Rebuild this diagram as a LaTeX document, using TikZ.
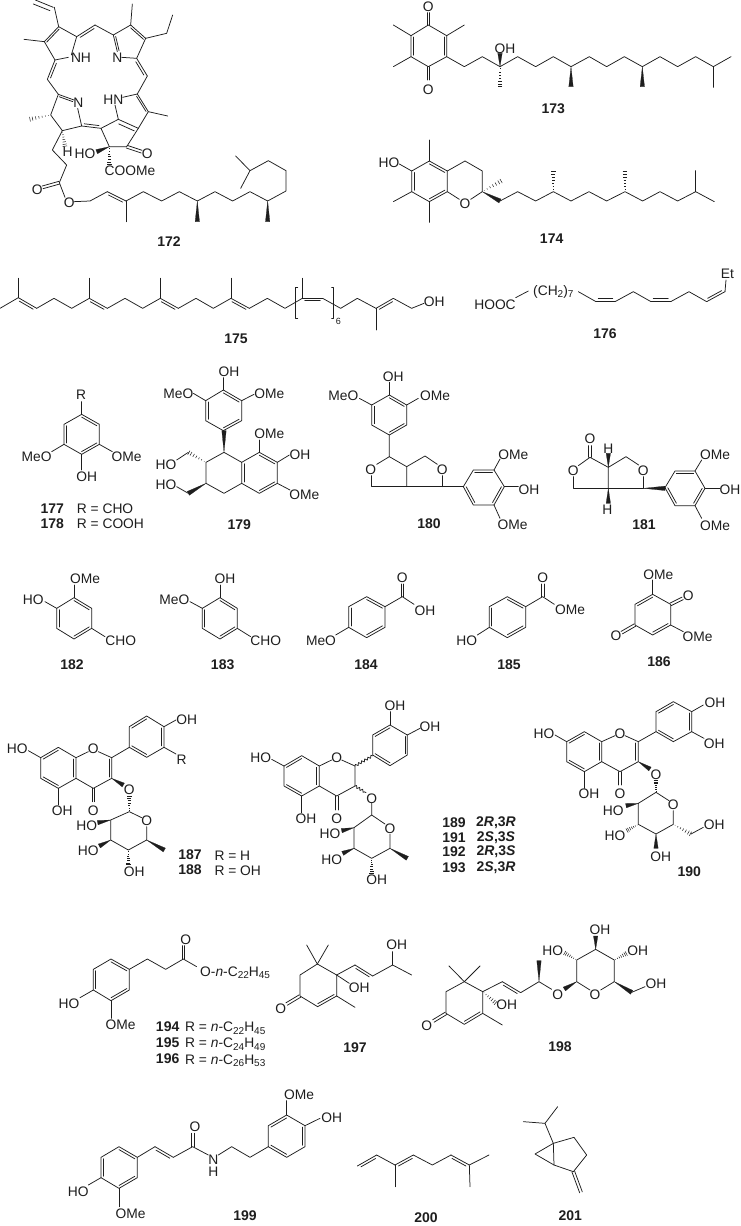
\documentclass[tikz,border=0pt]{standalone}
\usepackage{fontspec}
\setmainfont{Liberation Sans}
\usetikzlibrary{calc,decorations.pathmorphing}
\definecolor{ink}{HTML}{1E1E1E}
\tikzset{
  zz/.style 2 args={x=0.33333pt,y=-0.33333pt,xshift=#1pt,yshift=-#2pt},
  b/.style={draw=ink,line width=0.75pt,line cap=round,line join=round},
  hb/.style={draw=ink,line width=0.5pt},
  wf/.style={fill=ink,draw=ink,line width=0.2pt},
  atom/.style={inner sep=0pt,text=ink,font=\fontsize{13.8}{15}\selectfont},
  numl/.style={inner sep=0pt,text=ink,font=\fontsize{14}{15}\selectfont\bfseries},
  wavy/.style={b,decorate,decoration={snake,amplitude=1.2pt,segment length=3.6pt}}
}
\newcount\lblc
\newcommand\lbl[3][]{\global\advance\lblc by 1 \node[atom,#1] (t\the\lblc) at (#2) {#3};}
\newcommand\nml[2]{\global\advance\lblc by 1 \node[numl] (t\the\lblc) at (#1) {#2};}
\newcommand\inn[4][.14]{\draw[b] ($(#3)!#1!(#2)$) -- ($(#4)!#1!(#2)$);}
\newcommand\dbl[3]{\draw[b] (#1)--(#2); \draw[b] ($(#1)!.12!(#2)!#3!90:(#2)$) -- ($(#2)!.12!(#1)!#3!-90:(#1)$);}
\newcommand\dbo[2]{\draw[b] ($(#1)!1.4pt!90:(#2)$) -- ($(#2)!1.4pt!-90:(#1)$); \draw[b] ($(#1)!1.4pt!-90:(#2)$) -- ($(#2)!1.4pt!90:(#1)$);}
\newcommand\wdg[2]{\fill[wf] (#1) -- ($(#2)!2.2pt!90:(#1)$) -- ($(#2)!2.2pt!-90:(#1)$) -- cycle;}
\newcommand\hsh[2]{\foreach \hT in {.1,.25,.4,.55,.7,.85,.97}{\pgfmathsetlengthmacro\hW{\hT*2.4}\draw[hb] ($(#1)!\hT!(#2)!\hW!90:(#2)$) -- ($(#1)!\hT!(#2)!\hW!-90:(#2)$);}}
\newcommand\sbs[1]{\raisebox{-2.5pt}{\fontsize{10}{10}\selectfont #1}}
\begin{document}
\begin{tikzpicture}[x=1pt,y=-1pt]
\useasboundingbox (0,0) rectangle (741,1226);
\fill[white] (0,0) rectangle (741,1226);
%% 172
\begin{scope}[zz={0}{0}]
\draw[b] (176,80)--(163,22);
\draw[b] (160,22)--(106,0);
\draw[b] (150,32)--(100,12);
\draw[b] (133,125)--(72,118);
\draw[b] (214,165)--(230,110)--(176,80)--(133,125)--(165,180)--(205,172);
\inn{183,135}{176,80}{133,125}
\dbl{230,110}{285,75}{-2.5pt}
\draw[b] (285,75)--(340,105)--(352,155);
\draw[b] (340,105)--(392,75)--(437,115)--(410,175)--(365,172);
\inn{390,135}{340,105}{352,155}
\inn{390,135}{392,75}{437,115}
\draw[b] (392,75)--(397,12);
\draw[b] (437,115)--(500,100)--(518,45);
\dbl{165,180}{142,238}{2.5pt}
\dbl{410,175}{442,228}{-2.5pt}
\draw[b] (142,238)--(175,283);
\draw[b] (442,228)--(412,282);
\draw[b] (222,300)--(175,283)--(152,345)--(187,392)--(245,378)--(233,325);
\inn{195,335}{175,283}{222,300}
\draw[b] (368,292)--(412,282)--(445,335)--(415,385)--(380,440)--(328,440)--(303,385)--(355,358)--(345,315);
\inn{395,330}{412,282}{445,335}
\draw[b] (355,358)--(415,385);
\inn[.22]{360,420}{355,358}{415,385}
\draw[b] (445,335)--(503,348);
\dbl{303,385}{245,378}{-2.5pt}
\hsh{152,345}{88,358}
\hsh{187,392}{195,440}
\draw[b] (187,392)--(157,450)--(200,495)--(178,548);
\dbo{178,548}{128,562}
\draw[b] (178,548)--(195,592);
\draw[b] (222,605)--(270,603)--(322,575);
\dbl{322,575}{378,603}{-2.5pt}
\draw[b] (378,603)--(378,665);
\draw[b] (378,603)--(430,575)--(485,603)--(538,575)--(592,603)--(645,575)--(698,603)--(750,575)--(803,603)--(858,573)--(858,512)--(805,482)--(750,512)--(707,468);
\draw[b] (750,512)--(722,565);
\wdg{592,603}{592,665}
\wdg{803,603}{803,665}
\wdg{328,440}{290,455}
\hsh{328,440}{328,495}
\dbo{380,440}{425,455}
\lbl{243,172}{NH}
\lbl{352,172}{N}
\lbl{340,298}{HN}
\lbl{235,308}{N}
\lbl{203,455}{H}
\lbl{255,462}{HO}
\lbl{442,462}{O}
\lbl{390,512}{COOMe}
\lbl{112,568}{O}
\lbl{208,607}{O}
\nml{507,725}{172}
\end{scope}
%% 173 174
\begin{scope}[zz={360}{0}]
\draw[b] (205,75)--(260,107)--(260,170)--(205,200)--(153,170)--(153,107)--cycle;
\inn{207,137}{153,107}{153,170}
\inn{207,137}{260,107}{260,170}
\dbo{205,75}{205,38}
\dbo{205,200}{205,240}
\lbl{205,20}{O}
\lbl{205,270}{O}
\draw[b] (153,107)--(100,75);
\draw[b] (153,170)--(100,200);
\draw[b] (260,107)--(313,75);
\draw[b] (260,170)--(313,200)--(367,170)--(420,200)--(473,170)--(527,200)--(580,170)--(633,200)--(688,170)--(740,200)--(793,170)--(847,200)--(900,170)--(953,200)--(1007,170)--(1060,200)--(1113,170);
\draw[b] (1060,200)--(1060,262);
\wdg{420,200}{420,160}
\hsh{420,200}{420,262}
\wdg{633,200}{633,260}
\wdg{847,200}{847,260}
\lbl{435,145}{OH}
\nml{580,327}{173}
\draw[b] (208,483)--(262,513)--(262,575)--(208,605)--(155,575)--(155,513)--cycle;
\inn{208,544}{208,483}{262,513}
\inn{208,544}{262,575}{208,605}
\inn{208,544}{155,513}{155,575}
\draw[b] (155,513)--(118,492);
\draw[b] (208,483)--(208,420);
\draw[b] (155,575)--(100,605);
\draw[b] (208,605)--(208,667);
\draw[b] (262,575)--(298,598);
\draw[b] (262,513)--(315,483)--(367,513)--(367,575)--(332,598);
\hsh{367,575}{425,542}
\wdg{367,575}{420,603}
\draw[b] (420,603)--(473,575)--(527,603)--(580,575)--(633,603)--(687,575)--(740,603)--(795,575)--(848,603)--(900,575)--(953,603)--(1007,575)--(1063,605);
\draw[b] (1007,575)--(1007,512);
\hsh{580,575}{580,512}
\hsh{795,575}{795,512}
\lbl{87,487}{HO}
\lbl{315,610}{O}
\nml{575,715}{174}
\end{scope}
%% 175 177 178 179
\begin{scope}[zz={0}{255}]
\draw[b] (0,160)--(55,128);
\dbl{55,128}{110,160}{-2.5pt}
\draw[b] (110,160)--(162,130)--(215,160)--(268,130);
\dbl{268,130}{322,160}{-2.5pt}
\draw[b] (322,160)--(375,130)--(428,160)--(481,130);
\dbl{481,130}{535,160}{-2.5pt}
\draw[b] (535,160)--(588,130)--(640,160)--(693,130);
\dbl{693,130}{748,160}{-2.5pt}
\draw[b] (748,160)--(802,130)--(855,160)--(907,130);
\dbl{907,130}{968,130}{-2.5pt}
\draw[b] (968,130)--(1022,160)--(1072,130)--(1128,160);
\dbl{1128,160}{1180,130}{-2.5pt}
\draw[b] (1180,130)--(1235,160)--(1272,145);
\draw[b] (1128,160)--(1128,225);
\foreach \mx in {55,268,481,693,907}{\draw[b] (\mx,128)--(\mx,70);}
\draw[b] (893,97)--(886,97)--(886,190)--(893,190);
\draw[b] (995,97)--(1001,97)--(1001,190)--(995,190);
\node[inner sep=0pt,text=ink,font=\fontsize{9}{9}\selectfont] (six) at (1015,200) {6};
\lbl{1303,140}{OH}
\nml{708,250}{175}
% 177
\draw[b] (245,478)--(298,508)--(298,568)--(245,598)--(192,568)--(192,508)--cycle;
\inn{245,538}{192,508}{192,568}
\inn{245,538}{245,478}{298,508}
\inn{245,538}{298,568}{245,598}
\draw[b] (245,478)--(245,440);
\draw[b] (192,568)--(155,590);
\draw[b] (298,568)--(337,590);
\draw[b] (245,598)--(245,645);
\lbl{243,420}{R}
\lbl{110,605}{MeO}
\lbl{380,605}{OMe}
\lbl{260,665}{OH}
\nml{157,762}{177}
\nml{157,805}{178}
\lbl[anchor=west]{230,762}{R = CHO}
\lbl[anchor=west]{230,807}{R = COOH}
% 179
\draw[b] (670,405)--(725,437)--(725,497)--(670,527)--(617,497)--(617,437)--cycle;
\inn{671,467}{617,437}{617,497}
\inn{671,467}{670,405}{725,437}
\inn{671,467}{670,527}{725,497}
\draw[b] (670,405)--(670,368);
\draw[b] (617,437)--(580,415);
\draw[b] (725,437)--(762,418);
\wdg{672,592}{672,527}
\draw[b] (672,592)--(725,622)--(725,685)--(672,715)--(618,685)--(618,622)--cycle;
\draw[b] (725,622)--(778,592)--(832,622)--(832,685)--(778,715)--(725,685);
\inn{778,654}{725,622}{725,685}
\inn{778,654}{778,592}{832,622}
\inn{778,654}{832,685}{778,715}
\draw[b] (778,592)--(778,555);
\draw[b] (832,622)--(868,600);
\draw[b] (832,685)--(870,705);
\hsh{618,622}{565,592}
\draw[b] (565,592)--(530,615);
\wdg{618,685}{565,715}
\draw[b] (565,715)--(530,695);
\lbl{687,350}{OH}
\lbl{535,415}{MeO}
\lbl{808,415}{OMe}
\lbl{808,535}{OMe}
\lbl{900,598}{OH}
\lbl{913,720}{OMe}
\lbl{498,628}{HO}
\lbl{498,690}{HO}
\nml{718,808}{179}
\end{scope}
%% 176 180 181
\begin{scope}[zz={350}{255}]
\lbl{435,148}{HOOC}
\draw[b] (497,128)--(535,108);
\lbl{610,110}{(CH\sbs{2})\sbs{7}}
\draw[b] (685,110)--(738,140);
\dbl{738,140}{795,140}{2.8pt}
\draw[b] (795,140)--(850,110)--(903,140);
\dbl{903,140}{962,140}{2.8pt}
\draw[b] (962,140)--(1017,110)--(1070,140);
\dbl{1070,140}{1125,110}{2.5pt}
\draw[b] (1125,110)--(1128,75);
\lbl{1132,55}{Et}
\nml{765,237}{176}
% 180
\draw[b] (118,420)--(170,450)--(170,510)--(118,540)--(65,510)--(65,450)--cycle;
\inn{118,480}{65,450}{65,510}
\inn{118,480}{118,420}{170,450}
\inn{118,480}{170,510}{118,540}
\draw[b] (118,420)--(118,382);
\draw[b] (65,450)--(28,430);
\draw[b] (170,450)--(205,430);
\draw[b] (118,540)--(118,605)--(170,635)--(170,695);
\draw[b] (118,605)--(80,628);
\draw[b] (65,662)--(65,695)--(277,695)--(340,695);
\draw[b] (170,635)--(225,603)--(262,628);
\draw[b] (277,662)--(277,695);
\draw[b] (340,695)--(370,645)--(432,645)--(463,695)--(432,750)--(370,750)--cycle;
\inn{401,697}{370,645}{432,645}
\inn{401,697}{463,695}{432,750}
\inn{401,697}{340,695}{370,750}
\draw[b] (432,645)--(450,612);
\draw[b] (463,695)--(505,695);
\draw[b] (432,750)--(450,790);
\lbl{130,365}{OH}
\lbl{-20,423}{MeO}
\lbl{255,423}{OMe}
\lbl{62,645}{O}
\lbl{277,645}{O}
\lbl{490,598}{OMe}
\lbl{537,703}{OH}
\lbl{488,808}{OMe}
\nml{237,807}{180}
% 181
\dbo{720,607}{720,572}
\draw[b] (685,632)--(720,607)--(775,637)--(775,700);
\draw[b] (670,665)--(670,700)--(880,700)--(880,665);
\draw[b] (775,637)--(828,605)--(866,630);
\wdg{775,637}{775,595}
\wdg{775,700}{775,745}
\wdg{880,700}{945,700}
\draw[b] (945,698)--(975,648)--(1035,648)--(1065,700)--(1035,752)--(975,752)--cycle;
\inn{1005,700}{975,648}{1035,648}
\inn{1005,700}{1065,700}{1035,752}
\inn{1005,700}{945,698}{975,752}
\draw[b] (1035,648)--(1055,615);
\draw[b] (1065,700)--(1110,700);
\draw[b] (1035,752)--(1055,790);
\lbl{720,552}{O}
\lbl{670,647}{O}
\lbl{880,647}{O}
\lbl{775,580}{H}
\lbl{772,765}{H}
\lbl{1095,600}{OMe}
\lbl{1140,705}{OH}
\lbl{1095,812}{OMe}
\nml{882,810}{181}
\end{scope}
%% 182 183
\begin{scope}[zz={0}{535}]
\draw[b] (222,188)--(275,220)--(275,280)--(222,312)--(170,280)--(170,220)--cycle;
\inn{222,250}{222,188}{275,220}
\inn{222,250}{170,220}{170,280}
\inn{222,250}{222,312}{275,280}
\draw[b] (222,188)--(222,150);
\draw[b] (170,220)--(135,200);
\draw[b] (275,280)--(315,305);
\lbl{255,132}{OMe}
\lbl{100,195}{HO}
\lbl{362,318}{CHO}
\nml{216,390}{182}
\draw[b] (660,188)--(712,220)--(712,280)--(660,312)--(607,280)--(607,220)--cycle;
\inn{660,250}{660,188}{712,220}
\inn{660,250}{607,220}{607,280}
\inn{660,250}{660,312}{712,280}
\draw[b] (660,188)--(660,150);
\draw[b] (607,220)--(570,200);
\draw[b] (712,280)--(752,305);
\lbl{675,132}{OH}
\lbl{523,193}{MeO}
\lbl{797,318}{CHO}
\nml{668,390}{183}
\end{scope}
%% 184 185 186
\begin{scope}[zz={370}{535}]
\draw[b] (-64,215)--(-10,185)--(45,215)--(45,277)--(-10,308)--(-64,277)--cycle;
\inn{-10,246}{-64,215}{-64,277}
\inn{-10,246}{-10,185}{45,215}
\inn{-10,246}{45,277}{-10,308}
\draw[b] (-64,277)--(-103,300);
\draw[b] (45,215)--(97,185)--(132,208);
\dbo{97,185}{97,147}
\lbl{97,128}{O}
\lbl{165,227}{OH}
\lbl{-147,318}{MeO}
\nml{-12,390}{184}
\draw[b] (358,215)--(412,185)--(467,215)--(467,277)--(412,308)--(358,277)--cycle;
\inn{412,246}{358,215}{358,277}
\inn{412,246}{412,185}{467,215}
\inn{412,246}{467,277}{412,308}
\draw[b] (358,277)--(322,300);
\draw[b] (467,215)--(518,185)--(553,208);
\dbo{518,185}{518,147}
\lbl{518,128}{O}
\lbl{600,223}{OMe}
\lbl{290,317}{HO}
\nml{417,390}{185}
\draw[b] (848,178)--(902,208)--(902,270)--(848,300)--(795,270)--(795,208)--cycle;
\inn{848,239}{848,178}{795,208}
\inn{848,239}{902,270}{848,300}
\draw[b] (848,178)--(848,135);
\dbo{902,208}{938,190}
\draw[b] (902,270)--(940,290);
\dbo{795,270}{755,293}
\lbl{865,118}{OMe}
\lbl{955,183}{O}
\lbl{983,305}{OMe}
\lbl{738,303}{O}
\nml{867,381}{186}
\end{scope}
%% 187 188 189 etc
\begin{scope}[zz={0}{670}]
\draw[b] (175,232)--(228,263)--(228,325)--(175,355)--(122,325)--(122,263)--cycle;
\inn{175,294}{175,232}{122,263}
\inn{175,294}{122,325}{175,355}
\inn{175,294}{228,263}{228,325}
\draw[b] (228,263)--(265,245);
\draw[b] (295,245)--(335,263)--(335,325)--(280,355)--(228,325);
\inn{282,294}{335,263}{335,325}
\draw[b] (122,263)--(85,242);
\draw[b] (175,355)--(175,405);
\dbo{280,355}{280,395}
\wdg{335,325}{370,345}
\draw[b] (335,263)--(388,232);
\draw[b] (388,232)--(388,170)--(440,138)--(492,170)--(492,232)--(440,262)--cycle;
\inn{440,200}{388,170}{440,138}
\inn{440,200}{388,232}{440,262}
\inn{440,200}{492,170}{492,232}
\draw[b] (492,170)--(528,150);
\draw[b] (492,232)--(528,252);
\hsh{388,425}{388,378}
\draw[b] (425,443)--(388,425)--(332,450)--(332,510)--(385,540)--(440,510)--(440,470);
\wdg{440,510}{493,540}
\wdg{332,450}{293,458}
\wdg{332,510}{298,528}
\hsh{385,540}{385,585}
\lbl{52,237}{HO}
\lbl{187,423}{OH}
\lbl{280,237}{O}
\lbl{280,423}{O}
\lbl{388,360}{O}
\lbl{560,148}{OH}
\lbl{545,268}{R}
\lbl{440,452}{O}
\lbl{260,468}{HO}
\lbl{265,543}{HO}
\lbl{403,605}{OH}
\nml{570,555}{187}
\nml{570,600}{188}
\lbl[anchor=west]{643,558}{R = H}
\lbl[anchor=west]{643,602}{R = OH}
% 189 skeleton
\draw[b] (905,257)--(958,288)--(958,348)--(905,378)--(852,348)--(852,288)--cycle;
\inn{905,318}{905,257}{852,288}
\inn{905,318}{852,348}{905,378}
\inn{905,318}{958,288}{958,348}
\draw[b] (852,288)--(815,268);
\draw[b] (905,378)--(905,428);
\draw[b] (958,288)--(995,270);
\draw[b] (1025,270)--(1065,288)--(1065,348)--(1010,378)--(958,348);
\dbo{1010,378}{1010,420}
\draw[wavy] (1065,288)--(1118,257);
\draw[wavy] (1065,348)--(1098,368);
\draw[b] (1118,255)--(1118,195)--(1170,165)--(1222,195)--(1222,255)--(1170,287)--cycle;
\inn{1170,226}{1118,195}{1170,165}
\inn{1170,226}{1222,195}{1222,255}
\inn{1170,226}{1118,255}{1170,287}
\draw[b] (1170,165)--(1170,125);
\draw[b] (1222,195)--(1260,175);
\draw[b] (1115,400)--(1115,435)--(1155,462);
\draw[b] (1115,435)--(1062,473)--(1062,535)--(1115,565)--(1170,535)--(1170,493);
\wdg{1170,535}{1222,565}
\wdg{1062,473}{1025,482}
\wdg{1062,535}{1028,550}
\hsh{1115,565}{1115,610}
\lbl{782,262}{HO}
\lbl{918,445}{OH}
\lbl{1010,262}{O}
\lbl{1010,445}{O}
\lbl{1115,385}{O}
\lbl{1185,108}{OH}
\lbl{1290,170}{OH}
\lbl{1170,477}{O}
\lbl{990,492}{HO}
\lbl{995,570}{HO}
\lbl{1130,630}{OH}
\end{scope}
\begin{scope}[zz={370}{670}]
\nml{252,457}{189}
\nml{252,503}{191}
\nml{252,544}{192}
\nml{252,592}{193}
\lbl[font=\fontsize{14}{15}\selectfont\bfseries]{378,457}{2\textit{R},3\textit{R}}
\lbl[font=\fontsize{14}{15}\selectfont\bfseries]{378,503}{2\textit{S},3\textit{S}}
\lbl[font=\fontsize{14}{15}\selectfont\bfseries]{378,544}{2\textit{R},3\textit{S}}
\lbl[font=\fontsize{14}{15}\selectfont\bfseries]{378,592}{2\textit{S},3\textit{R}}
% 190
\draw[b] (643,185)--(695,215)--(695,275)--(643,305)--(590,275)--(590,215)--cycle;
\inn{643,245}{643,185}{590,215}
\inn{643,245}{590,275}{643,305}
\inn{643,245}{695,215}{695,275}
\draw[b] (590,215)--(555,195);
\draw[b] (643,305)--(643,355);
\draw[b] (695,215)--(735,197);
\draw[b] (765,197)--(805,215)--(805,275)--(750,305)--(695,275);
\inn{750,245}{805,215}{805,275}
\dbo{750,305}{750,345}
\wdg{805,275}{840,297}
\draw[b] (805,215)--(858,185);
\draw[b] (858,185)--(858,125)--(910,95)--(965,125)--(965,185)--(910,215)--cycle;
\inn{911,155}{858,125}{910,95}
\inn{911,155}{965,125}{965,185}
\inn{911,155}{858,185}{910,215}
\draw[b] (965,125)--(1000,105);
\draw[b] (965,185)--(1002,205);
\hsh{858,367}{858,330}
\draw[b] (897,392)--(858,367)--(805,400)--(805,463)--(858,492)--(910,463)--(910,422);
\wdg{805,400}{768,407}
\hsh{805,463}{770,482}
\wdg{858,492}{858,535}
\hsh{910,463}{963,492}
\draw[b] (963,492)--(1000,472);
\lbl{522,192}{HO}
\lbl{657,372}{OH}
\lbl{750,190}{O}
\lbl{750,372}{O}
\lbl{858,313}{O}
\lbl{1035,98}{OH}
\lbl{1033,220}{OH}
\lbl{910,405}{O}
\lbl{730,423}{HO}
\lbl{735,498}{HO}
\lbl{872,560}{OH}
\lbl{1033,465}{OH}
\nml{958,605}{190}
\end{scope}
%% 194-197
\begin{scope}[zz={0}{890}]
\draw[b] (333,207)--(388,238)--(388,300)--(333,332)--(280,300)--(280,238)--cycle;
\inn{334,269}{333,207}{388,238}
\inn{334,269}{280,238}{280,300}
\inn{334,269}{388,300}{333,332}
\draw[b] (280,300)--(240,323);
\draw[b] (333,332)--(333,385);
\draw[b] (388,238)--(442,207)--(497,238)--(550,207)--(590,230);
\dbo{550,207}{550,167}
\lbl{557,148}{O}
\lbl{207,342}{HO}
\lbl{362,405}{OMe}
\lbl[anchor=west]{600,248}{O-\textit{n}-C\sbs{22}H\sbs{45}}
\nml{503,410}{194}
\nml{503,457}{195}
\nml{503,507}{196}
\lbl[anchor=west]{555,415}{R = \textit{n}-C\sbs{22}H\sbs{45}}
\lbl[anchor=west]{555,462}{R = \textit{n}-C\sbs{24}H\sbs{49}}
\lbl[anchor=west]{555,512}{R = \textit{n}-C\sbs{26}H\sbs{53}}
% 197
\draw[b] (952,222)--(1010,255)--(1010,318)--(953,350)--(900,318)--(900,255)--cycle;
\inn{955,286}{1010,318}{953,350}
\draw[b] (952,222)--(920,165);
\draw[b] (952,222)--(985,165);
\draw[b] (1010,318)--(1065,352);
\dbo{900,318}{860,342}
\lbl{842,357}{O}
\draw[b] (1010,255)--(1065,225);
\dbl{1065,225}{1118,258}{-2.5pt}
\draw[b] (1118,258)--(1178,225)--(1235,255);
\draw[b] (1178,225)--(1178,185);
\draw[b] (1010,255)--(1048,280);
\lbl{1078,292}{OH}
\lbl{1190,165}{OH}
\nml{1065,473}{197}
\end{scope}
%% 198
\begin{scope}[zz={370}{890}]
\draw[b] (283,275)--(338,305)--(338,370)--(283,403)--(228,370)--(228,305)--cycle;
\inn{283,339}{338,370}{283,403}
\draw[b] (283,275)--(237,228);
\draw[b] (283,275)--(330,228);
\draw[b] (338,370)--(397,405);
\dbo{228,370}{190,393}
\lbl{170,408}{O}
\draw[b] (338,305)--(397,275);
\dbl{397,275}{452,308}{-2.5pt}
\draw[b] (452,308)--(507,275)--(545,298);
\hsh{338,305}{378,340}
\lbl{410,343}{OH}
\wdg{507,275}{507,212}
\wdg{620,275}{583,297}
\draw[b] (660,300)--(620,275)--(620,210)--(677,178)--(733,210)--(733,275)--(692,300);
\hsh{620,210}{583,188}
\wdg{677,178}{677,138}
\hsh{733,210}{770,190}
\wdg{733,275}{785,307}
\draw[b] (785,307)--(825,290);
\lbl{563,313}{O}
\lbl{675,313}{O}
\lbl{548,182}{HO}
\lbl{690,120}{OH}
\lbl{803,183}{OH}
\lbl{858,282}{OH}
\nml{570,470}{198}
\end{scope}
%% 199
\begin{scope}[zz={0}{1080}]
\draw[b] (357,200)--(412,232)--(412,293)--(357,325)--(303,293)--(303,232)--cycle;
\inn{358,263}{303,232}{303,293}
\inn{358,263}{357,200}{412,232}
\inn{358,263}{412,293}{357,325}
\draw[b] (303,293)--(265,315);
\draw[b] (357,325)--(357,380);
\draw[b] (412,232)--(465,200);
\dbl{465,200}{520,232}{-2.5pt}
\draw[b] (520,232)--(578,200)--(625,225);
\dbo{578,200}{578,160}
\draw[b] (655,225)--(695,200)--(750,232)--(805,200);
\draw[b] (805,200)--(860,232)--(915,200)--(915,137)--(860,105)--(805,137)--cycle;
\inn{860,168}{805,137}{860,105}
\inn{860,168}{915,137}{915,200}
\inn{860,168}{805,200}{860,232}
\draw[b] (860,105)--(860,62);
\draw[b] (915,137)--(960,115);
\lbl{585,140}{O}
\lbl{640,238}{N}
\lbl{640,275}{H}
\lbl{235,335}{HO}
\lbl{392,400}{OMe}
\lbl{897,45}{OMe}
\lbl{995,112}{OH}
\nml{735,407}{199}
\end{scope}
%% 200 201
\begin{scope}[zz={370}{1080}]
\dbl{-38,258}{20,225}{-2.5pt}
\draw[b] (20,225)--(75,255);
\dbl{75,255}{130,225}{-2.5pt}
\draw[b] (130,225)--(187,255)--(243,225);
\dbl{243,225}{298,255}{-2.5pt}
\draw[b] (298,255)--(357,225);
\draw[b] (298,255)--(300,320);
\draw[b] (75,255)--(75,320);
\nml{168,412}{200}
\draw[b] (550,190)--(612,172)--(650,225)--(610,275)--(552,255)--cycle;
\draw[b] (550,190)--(495,222)--(552,255);
\draw[b] (550,190)--(525,130)--(460,125);
\draw[b] (525,130)--(563,80);
\dbo{610,275}{633,337}
\nml{601,408}{201}
\end{scope}
\end{tikzpicture}
\end{document}
